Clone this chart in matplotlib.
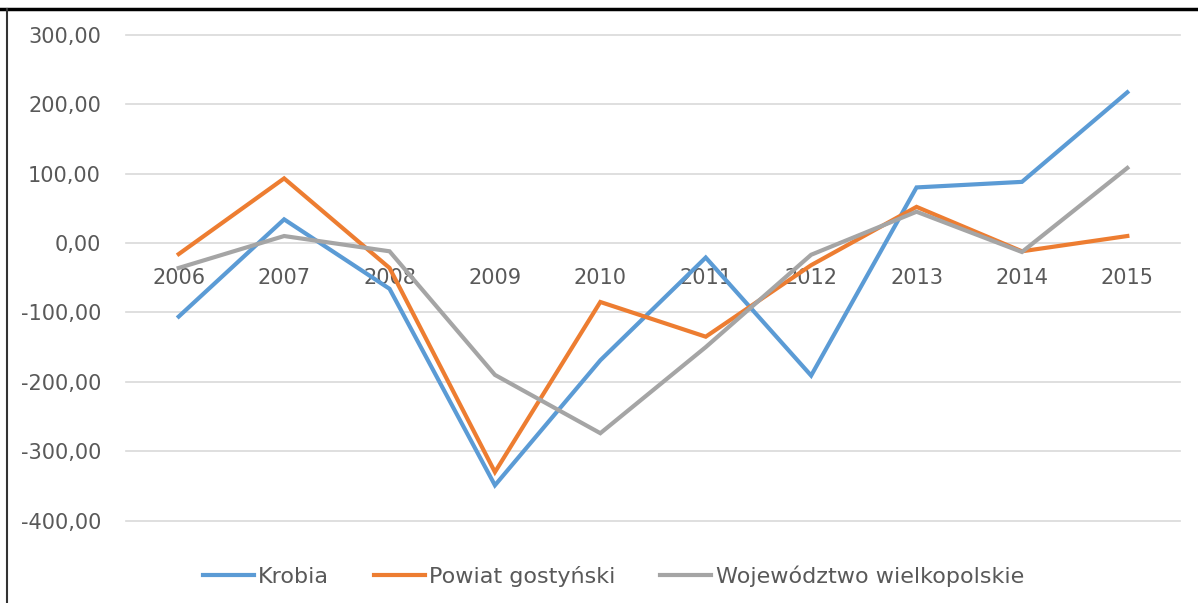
import matplotlib
matplotlib.use("Agg")
import matplotlib.pyplot as plt
from matplotlib.lines import Line2D
from matplotlib.ticker import FuncFormatter

plt.rcParams['font.family'] = ['DejaVu Sans']

# data
years = ['2006', '2007', '2008', '2009', '2010', '2011', '2012', '2013', '2014', '2015']
krobia = [-106, 34, -66, -349, -169, -21, -191, 80, 88, 217]
powiat = [-16, 93, -36, -330, -85, -135, -32, 52, -12, 10]
wojewodztwo = [-36, 10, -12, -190, -274, -150, -17, 45, -13, 108]
series_names = ['Krobia', 'Powiat gostyński', 'Województwo wielkopolskie']

colors = ['#5B9BD5', '#ED7D31', '#A5A5A5']
text_col = '#595959'

fig = plt.figure(figsize=(11.98, 6.03), dpi=100)
ax = fig.add_axes([0.1052, 0.1365, 0.985 - 0.1052, 0.9425 - 0.1365])

x = list(range(len(years)))
for vals, name, c in zip([krobia, powiat, wojewodztwo], series_names, colors):
    ax.plot(x, vals, color=c, lw=3.0, label=name, solid_joinstyle='miter', zorder=3)

ax.set_xlim(-0.5, len(years) - 0.5)
ax.set_ylim(-400, 300)
ax.set_yticks(range(-400, 301, 100))
ax.yaxis.set_major_formatter(FuncFormatter(lambda v, p: f"{v:.2f}".replace('.', ',')))
ax.set_xticks(x)
ax.set_xticklabels(years)

ax.grid(axis='y', color='#D9D9D9', lw=1.2, zorder=0)
for gl in ax.yaxis.get_gridlines():
    gl.set_clip_on(False)
for s in ['top', 'right', 'left']:
    ax.spines[s].set_visible(False)
ax.spines['bottom'].set_position(('data', 0))
ax.spines['bottom'].set_visible(False)
ax.tick_params(axis='y', length=0, pad=18, labelsize=15, labelcolor=text_col)
ax.tick_params(axis='x', length=0, pad=18, labelsize=15, labelcolor=text_col)

leg = fig.legend(loc='center', bbox_to_anchor=(0.512, 1 - 576 / 603), ncol=3, frameon=False,
                 fontsize=16, handlelength=2.3, handletextpad=0.2, columnspacing=2.0)
for t in leg.get_texts():
    t.set_color(text_col)

# outer frame bits of the original screenshot
fig.add_artist(Line2D([0, 1], [1 - 9 / 603, 1 - 9 / 603], transform=fig.transFigure,
                      color='black', lw=2.5))
fig.add_artist(Line2D([7 / 1198, 7 / 1198], [0, 1 - 9 / 603], transform=fig.transFigure,
                      color='#333333', lw=1.5))

fig.savefig('out.png', dpi=100)
